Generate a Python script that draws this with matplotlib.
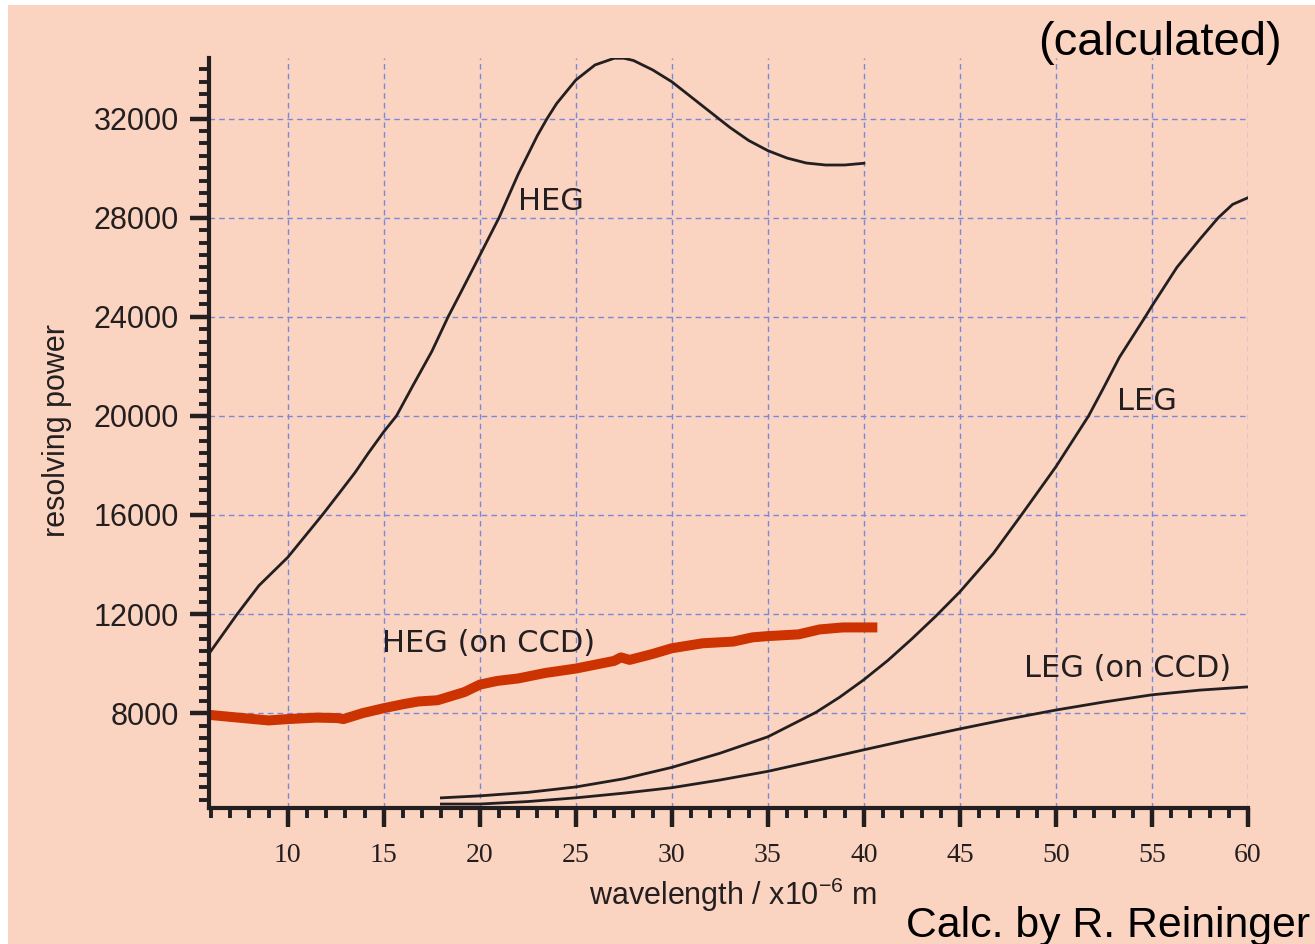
import matplotlib.pyplot as plt
from matplotlib.patches import Rectangle
from matplotlib.ticker import MultipleLocator

plt.rcParams['mathtext.fontset'] = 'custom'
plt.rcParams['mathtext.rm'] = 'Liberation Sans'

# данные
heg_x = [5.9, 7.37, 8.5, 10, 11.8, 12.6, 13.5, 14.2, 15, 15.66, 16.5, 17.5, 18.35, 19, 20,
         21, 22, 23, 23.5, 24, 25, 26, 27, 27.5, 28, 29, 30, 31, 32, 33, 34, 35, 36, 37,
         38, 39, 40]
heg_y = [10400, 12000, 13150, 14290, 16000, 16800, 17710, 18500, 19360, 20000, 21200,
         22600, 24000, 24970, 26480, 28000, 29760, 31320, 32000, 32610, 33560, 34170,
         34440, 34440, 34350, 33970, 33490, 32880, 32270, 31660, 31120, 30710, 30410,
         30210, 30130, 30130, 30200]

heg_ccd_x = [5.9, 7.0, 9.0, 10.0, 11.5, 12.6, 12.9, 13.9, 15.0, 16.0, 16.8, 17.8, 19.2,
             20.0, 20.9, 22.0, 23.4, 25.0, 27.0, 27.35, 27.8, 29.0, 30.0, 31.6, 33.2,
             34.2, 35.0, 36.6, 37.7, 38.9, 40.0, 40.7]
heg_ccd_y = [7930, 7850, 7705, 7760, 7820, 7800, 7760, 8000, 8200, 8360, 8470, 8520, 8850,
             9150, 9300, 9400, 9620, 9800, 10110, 10250, 10150, 10390, 10620, 10820, 10890,
             11060, 11110, 11180, 11380, 11460, 11460, 11460]

leg_x = [18, 20, 22.5, 25, 27.5, 30, 32.5, 35, 37.5, 38.75, 40, 41.25, 42.5, 43.75, 45,
         46.74, 48.2, 50, 51.7, 52.47, 53.3, 54.65, 55, 56.3, 57.5, 58.45, 59.2, 60]
leg_y = [4580, 4660, 4800, 5020, 5350, 5810, 6380, 7045, 8030, 8650, 9350, 10130, 11000,
         11920, 12900, 14450, 16000, 17950, 20000, 21120, 22360, 24000, 24440, 26000,
         27140, 28000, 28540, 28810]

leg_ccd_x = [18, 20, 22.5, 25, 27.5, 30, 32.5, 35, 37.5, 40, 42.5, 45, 47.5, 50, 52.5,
             55, 57.5, 60]
leg_ccd_y = [4330, 4330, 4430, 4580, 4770, 4990, 5300, 5650, 6080, 6520, 6950, 7365, 7760,
             8125, 8450, 8740, 8930, 9060]

peach = '#FBD3C1'
ink = '#231f20'

fig = plt.figure(figsize=(13.15, 9.44), dpi=100)
fig.patch.set_facecolor('white')
fig.add_artist(Rectangle((8 / 1315, 0), 1, (944 - 5) / 944, transform=fig.transFigure,
                         facecolor=peach, edgecolor='none', zorder=-10))

ax = fig.add_axes([209 / 1315, 136 / 944, 1039 / 1315, 750 / 944])
ax.set_facecolor(peach)

for xs, ys in [(heg_x, heg_y), (leg_x, leg_y), (leg_ccd_x, leg_ccd_y)]:
    ax.plot(xs, ys, color=ink, lw=2.0, solid_joinstyle='round')
ax.plot(heg_ccd_x, heg_ccd_y, color='#CC3300', lw=7.2, solid_capstyle='butt',
        solid_joinstyle='round')

ax.set_xlim(5.9, 60)
ax.set_ylim(4170, 34450)

ax.xaxis.set_major_locator(MultipleLocator(5))
ax.xaxis.set_minor_locator(MultipleLocator(1))
ax.yaxis.set_major_locator(MultipleLocator(4000))
ax.yaxis.set_minor_locator(MultipleLocator(500))

ax.set_axisbelow(True)
ax.grid(which='major', color='#7a88d8', linestyle=(0, (4, 3)), linewidth=1.0)

for s in ['top', 'right']:
    ax.spines[s].set_visible(False)
for s in ['left', 'bottom']:
    ax.spines[s].set_linewidth(3.0)
    ax.spines[s].set_color(ink)

ax.tick_params(which='major', direction='out', length=13.5, width=3.2, color=ink)
ax.tick_params(which='minor', direction='out', length=7, width=2.8, color=ink)
ax.tick_params(axis='y', which='major', pad=8)
ax.tick_params(axis='x', which='major', pad=12)

for lab in ax.get_yticklabels():
    lab.set_fontfamily('Liberation Sans')
    lab.set_fontsize(22)
    lab.set_color(ink)
for lab in ax.get_xticklabels():
    lab.set_fontfamily('Liberation Serif')
    lab.set_fontsize(20)
    lab.set_color(ink)

ax.set_xlabel('wavelength / x10$^{-6}$ m', fontsize=22, family='Liberation Sans', color=ink)
ax.xaxis.label.set_va('baseline')
ax.xaxis.set_label_coords(0.5043, -0.1293)
ax.set_ylabel('resolving power', fontsize=22, family='Liberation Sans', color=ink)
ax.yaxis.label.set_va('center')
ax.yaxis.set_label_coords(-0.1463, 0.5027)

# подписи кривых
ax.text(22.0, 28300, 'HEG', fontsize=22, color=ink, va='baseline')
ax.text(14.9, 10473, 'HEG (on CCD)', fontsize=22, color=ink, va='baseline')
ax.text(53.2, 20235, 'LEG', fontsize=22, color=ink, va='baseline')
ax.text(48.35, 9464, 'LEG (on CCD)', fontsize=22, color=ink, va='baseline')

fig.text(0.975, 0.9417, '(calculated)', fontsize=34, family='Liberation Sans',
         ha='right', va='baseline', color='black')
fig.text(0.9962, 0.0074, 'Calc. by R. Reininger', fontsize=30.8, family='Liberation Sans',
         ha='right', va='baseline', color='black')

fig.savefig('out.png', dpi=100, facecolor=fig.get_facecolor())
